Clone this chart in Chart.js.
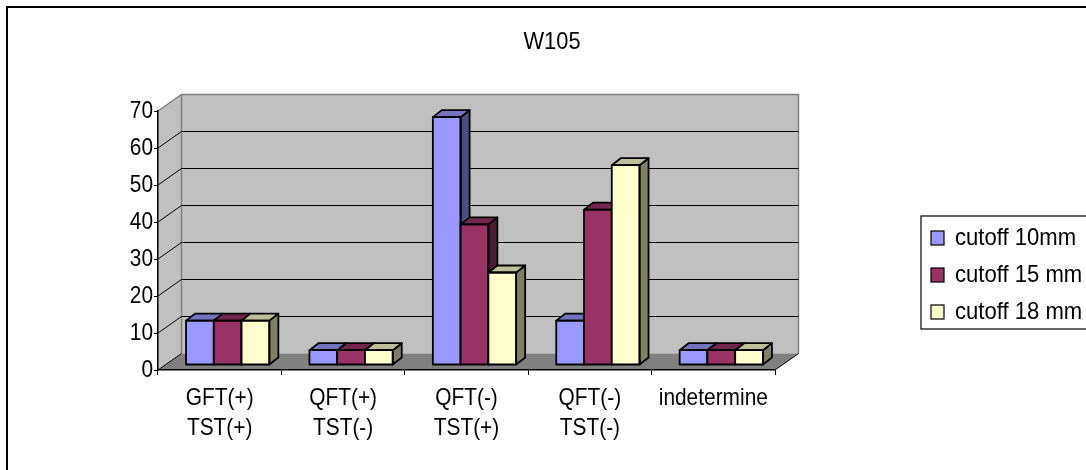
<!DOCTYPE html>
<html>
<head>
<meta charset="utf-8">
<title>W105</title>
<script src="https://cdn.jsdelivr.net/npm/chart.js@4.4.1/dist/chart.umd.min.js"></script>
<style>
  html, body { margin: 0; padding: 0; background: #fff; }
  #wrap { width: 1086px; height: 470px; }
</style>
</head>
<body>
<div id="wrap"><canvas id="c" width="1086" height="470"></canvas></div>
<script>
// Categories (two-line labels) and the three cutoff series
const categories = [
  ['GFT(+)', 'TST(+)'],
  ['QFT(+)', 'TST(-)'],
  ['QFT(-)', 'TST(+)'],
  ['QFT(-)', 'TST(-)'],
  ['indetermine']
];
const seriesNames = ['cutoff 10mm', 'cutoff 15 mm', 'cutoff 18 mm'];
const cutoff10 = [12, 4, 67, 12, 4];
const cutoff15 = [12, 4, 38, 42, 4];
const cutoff18 = [12, 4, 25, 54, 4];
const yMin = 0, yMax = 70, yStep = 10;
const chartTitle = 'W105';

const FONT = "'Liberation Sans', Arial, sans-serif";
const FS = 24;
const frontColors = ['#9999FF', '#993366', '#FFFFCC'];
const topColors   = ['#7373BF', '#73264D', '#BFBF99'];
const sideColors  = ['#4D4D80', '#4D1A33', '#808066'];

// depth of the wall box and of each column
const WALL_DX = 23.5, WALL_DY = 16.5;
const BAR_SHIFT_X = 8, BAR_SHIFT_Y = -5;
const BAR_DX = 9, BAR_DY = 7;

// narrow text: the face is squeezed horizontally by sx
function narrowText(ctx, text, x, y, sx, align) {
  ctx.save();
  ctx.translate(x, y);
  ctx.scale(sx, 1);
  ctx.textAlign = align;
  ctx.textBaseline = 'middle';
  ctx.fillText(text, 0, 0);
  ctx.restore();
}

const walls3d = {
  id: 'walls3d',
  beforeDraw(chart) {
    const { ctx, chartArea: a } = chart;
    const ys = chart.scales.y;
    const L = a.left, R = a.right, T = a.top, B = a.bottom;
    ctx.save();
    // left side wall
    ctx.fillStyle = '#C0C0C0';
    ctx.beginPath();
    ctx.moveTo(L, T); ctx.lineTo(L + WALL_DX, T - WALL_DY);
    ctx.lineTo(L + WALL_DX, B - WALL_DY); ctx.lineTo(L, B);
    ctx.closePath(); ctx.fill();
    // back wall
    ctx.fillRect(L + WALL_DX, T - WALL_DY, R - L, B - T);
    // floor
    ctx.fillStyle = '#808080';
    ctx.beginPath();
    ctx.moveTo(L, B); ctx.lineTo(L + WALL_DX, B - WALL_DY);
    ctx.lineTo(R + WALL_DX, B - WALL_DY); ctx.lineTo(R, B);
    ctx.closePath(); ctx.fill();
    // wall outlines
    ctx.strokeStyle = '#808080';
    ctx.lineWidth = 1.5;
    ctx.beginPath();
    ctx.moveTo(L, T); ctx.lineTo(L + WALL_DX, T - WALL_DY);
    ctx.lineTo(R + WALL_DX, T - WALL_DY); ctx.lineTo(R + WALL_DX, B - WALL_DY);
    ctx.moveTo(L + WALL_DX, T - WALL_DY); ctx.lineTo(L + WALL_DX, B - WALL_DY);
    ctx.stroke();
    // grid lines along side wall and back wall
    ctx.strokeStyle = '#000';
    ctx.lineWidth = 1;
    for (let v = yMin + yStep; v < yMax; v += yStep) {
      const y = ys.getPixelForValue(v);
      ctx.beginPath();
      ctx.moveTo(L, y); ctx.lineTo(L + WALL_DX, y - WALL_DY);
      ctx.lineTo(R + WALL_DX, y - WALL_DY);
      ctx.stroke();
    }
    // floor edges
    ctx.beginPath();
    ctx.moveTo(L, B); ctx.lineTo(L + WALL_DX, B - WALL_DY);
    ctx.moveTo(R, B); ctx.lineTo(R + WALL_DX, B - WALL_DY);
    ctx.stroke();
    ctx.restore();
  }
};

const columns3d = {
  id: 'columns3d',
  beforeDatasetsDraw(chart) {
    const ctx = chart.ctx;
    const metas = chart.data.datasets.map((d, i) => chart.getDatasetMeta(i));
    ctx.save();
    ctx.translate(BAR_SHIFT_X, BAR_SHIFT_Y);
    ctx.lineJoin = 'round';
    for (let j = 0; j < categories.length; j++) {
      metas.forEach((meta, i) => {
        const el = meta.data[j];
        if (!el) return;
        el.draw(ctx);
        const xl = el.x - el.width / 2, xr = el.x + el.width / 2;
        const top = el.y, base = el.base;
        ctx.lineWidth = 1.8;
        ctx.strokeStyle = '#000';
        // side face
        ctx.fillStyle = sideColors[i];
        ctx.beginPath();
        ctx.moveTo(xr, top); ctx.lineTo(xr + BAR_DX, top - BAR_DY);
        ctx.lineTo(xr + BAR_DX, base - BAR_DY); ctx.lineTo(xr, base);
        ctx.closePath(); ctx.fill(); ctx.stroke();
        // top face
        ctx.fillStyle = topColors[i];
        ctx.beginPath();
        ctx.moveTo(xl, top); ctx.lineTo(xl + BAR_DX, top - BAR_DY);
        ctx.lineTo(xr + BAR_DX, top - BAR_DY); ctx.lineTo(xr, top);
        ctx.closePath(); ctx.fill(); ctx.stroke();
        // front outline
        ctx.strokeRect(xl, top, xr - xl, base - top);
      });
    }
    ctx.restore();
    return false;
  }
};

// axis labels, taken from the scales' own ticks
const axisLabels = {
  id: 'axisLabels',
  afterDraw(chart) {
    const ctx = chart.ctx;
    const xs = chart.scales.x, ys = chart.scales.y;
    ctx.save();
    ctx.fillStyle = '#000';
    ctx.font = FS + 'px ' + FONT;
    ys.ticks.forEach((t, i) => {
      narrowText(ctx, String(t.label), ys.right - 5, ys.getPixelForTick(i), 0.87, 'right');
    });
    xs.ticks.forEach((t, i) => {
      const lines = Array.isArray(t.label) ? t.label : [t.label];
      const x = xs.getPixelForTick(i);
      lines.forEach((ln, k) => {
        narrowText(ctx, ln, x, xs.top + 28 + k * 30, 0.87, 'center');
      });
    });
    ctx.restore();
  }
};

const frameTitleLegend = {
  id: 'frameTitleLegend',
  afterDraw(chart) {
    const ctx = chart.ctx;
    ctx.save();
    // outer frame
    ctx.strokeStyle = '#000';
    ctx.lineWidth = 2;
    ctx.strokeRect(7, 7, 1200, 600);
    // title
    ctx.fillStyle = '#000';
    ctx.font = FS + 'px ' + FONT;
    narrowText(ctx, chartTitle, 552, 42, 0.91, 'center');
    // legend box
    ctx.lineWidth = 1.2;
    ctx.strokeRect(921, 216, 300, 113);
    const rows = [238, 275, 312];
    chart.data.datasets.forEach((ds, i) => {
      const cy = rows[i];
      ctx.fillStyle = ds.backgroundColor;
      ctx.fillRect(931, cy - 7, 13, 14);
      ctx.lineWidth = 1.2;
      ctx.strokeStyle = '#000';
      ctx.strokeRect(931, cy - 7, 13, 14);
      ctx.fillStyle = '#000';
      narrowText(ctx, ds.label, 955, cy, 0.92, 'left');
    });
    ctx.restore();
  }
};

const mkSet = (i, data) => ({
  label: seriesNames[i],
  data,
  backgroundColor: frontColors[i],
  borderColor: '#000',
  borderWidth: 0,
  borderSkipped: false
});

new Chart(document.getElementById('c'), {
  type: 'bar',
  data: {
    labels: categories,
    datasets: [mkSet(0, cutoff10), mkSet(1, cutoff15), mkSet(2, cutoff18)]
  },
  options: {
    responsive: false,
    animation: false,
    events: [],
    layout: { padding: { left: 0, top: 111, right: 311, bottom: 0 } },
    datasets: { bar: { categoryPercentage: 0.675, barPercentage: 1 } },
    plugins: { legend: { display: false }, title: { display: false }, tooltip: { enabled: false } },
    scales: {
      x: {
        type: 'category',
        offset: true,
        grid: { offset: true, drawOnChartArea: false, drawTicks: true, tickLength: 5, color: '#000', lineWidth: 1 },
        border: { display: true, color: '#000', width: 1.5 },
        ticks: { display: false, autoSkip: false, maxRotation: 0 },
        afterFit(s) { s.height = 100; }
      },
      y: {
        min: yMin, max: yMax,
        grid: { drawOnChartArea: false, drawTicks: true, tickLength: 4, color: '#000', lineWidth: 1 },
        border: { display: true, color: '#000', width: 1.5 },
        ticks: { display: false, stepSize: yStep },
        afterFit(s) { s.width = 158; }
      }
    }
  },
  plugins: [walls3d, columns3d, axisLabels, frameTitleLegend]
});
</script>
</body>
</html>
